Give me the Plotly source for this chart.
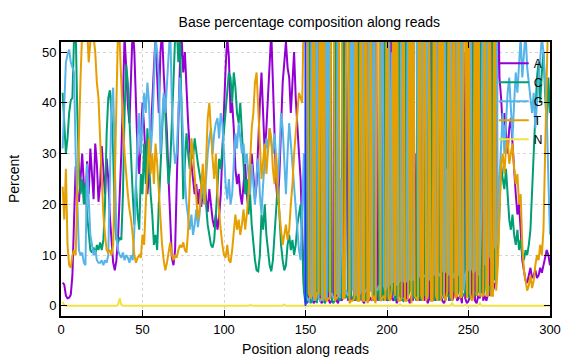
import plotly.graph_objects as go

positions = list(range(1, 301))

base_A = [
    4.6, 4.2, 2.0, 1.5, 1.6, 2.2, 6.0, 18.0, 27.5, 22.0,
    20.5, 25.0, 30.0, 24.0, 20.0, 28.5, 22.0, 31.0, 26.0, 21.0,
    32.0, 28.0, 20.5, 24.0, 31.5, 27.0, 22.0, 29.0, 25.0, 17.5,
    12.0, 8.5, 7.0, 9.0, 13.5, 21.0, 30.0, 41.0, 53.0, 47.0,
    39.5, 36.0, 44.0, 55.0, 50.0, 38.0, 30.0, 26.0, 33.0, 40.0,
    35.0, 28.0, 22.0, 26.0, 32.0, 40.0, 47.0, 53.0, 45.0, 38.0,
    50.0, 54.0, 46.0, 40.0, 34.0, 25.0, 16.0, 9.5, 8.0, 11.0,
    24.0, 38.0, 48.0, 53.0, 46.0, 50.0, 42.0, 36.0, 31.0, 28.0,
    25.0, 22.0, 24.0, 20.0, 23.0, 19.5, 22.0, 25.0, 21.0, 18.5,
    23.0, 20.0, 17.0, 15.5, 18.0, 15.0, 17.5, 22.0, 30.0, 41.0,
    47.0, 53.0, 49.0, 38.0, 40.0, 35.0, 27.0, 24.0, 26.0, 22.0,
    20.0, 24.0, 28.0, 22.0, 19.0, 25.0, 30.0, 26.0, 21.0, 24.0,
    33.0, 40.0, 46.0, 38.0, 30.0, 35.0, 42.0, 50.0, 54.0, 44.0,
    32.0, 24.0, 20.0, 26.0, 35.0, 44.0, 48.0, 52.0, 47.0, 45.0,
    38.0, 43.0, 50.0, 41.0, 34.0, 30.0, 25.0, 14.0, 4.0,
    1.0, 0.5, 1.5, 96, 2.0, 0.5, 1.0, 3.0, 60, 1.0,
    0.5, 2.0, 1.0, 95, 1.5, 0.5, 1.0, 2.0, 96, 1.0,
    0.5, 2.5, 1.0, 1.5, 94, 40, 1.0, 2.0, 1.0, 95,
    1.0, 3.0, 1.5, 96, 2.0, 1.0, 0.5, 2.5, 94, 1.0,
    1.5, 1.0, 2.0, 94, 1.0, 2.0, 1.0, 1.5, 93, 2.0,
    1.0, 2.5, 93, 1.5, 1.0, 2.0, 0.5, 1.5, 92, 1.0,
    2.0, 93, 1.0, 1.5, 0.5, 2.0, 1.0, 30, 1.5, 2.5,
    1.0, 2.0, 91, 1.0, 2.0, 0.5, 1.5, 91, 1.0, 2.5,
    1.0, 90, 1.5, 2.0, 1.0, 0.5, 1.5, 68, 1.0, 2.0,
    1.0, 2.0, 89, 1.0, 1.5, 2.0, 0.5, 50, 1.5, 0.5,
    1.0, 2.0, 1.5, 89, 1.0, 0.5, 2.0, 1.5, 75, 1.0,
    2.0, 1.0, 2.5, 2.0, 86, 3.0, 4.0, 5.0, 70,
    45, 41, 35, 38, 33, 30, 35, 37, 32, 26, 22, 18,
    20, 15, 9, 7, 5, 4.5, 6, 7.5, 5.5, 6,
    7, 5.5, 6, 7.5, 6.5, 8, 9, 11, 10, 8,
]

base_C = [
    42.0, 36.0, 30.0, 33.0, 38.0, 40.5, 41.0, 53.0, 55.0, 38.0,
    27.0, 22.0, 25.0, 20.0, 24.0, 18.0, 14.0, 11.0, 10.5, 11.5,
    10.0, 12.0, 11.0, 12.5, 11.0, 13.0, 20.0, 34.0, 41.0, 42.5,
    38.0, 30.0, 17.0, 13.0, 12.5, 13.5, 13.0, 22.0, 38.0, 47.5,
    44.0, 36.0, 28.0, 22.0, 16.0, 24.0, 18.0, 15.0, 26.0, 22.0,
    32.0, 24.0, 35.0, 28.0, 22.0, 18.0, 12.0, 14.0, 11.0, 20.0,
    26.0, 34.0, 41.0, 38.0, 30.0, 24.0, 28.0, 35.0, 44.0, 53.0,
    55.0, 48.0, 53.0, 38.0, 21.0, 28.0, 34.0, 30.0, 27.0, 31.0,
    29.0, 33.0, 30.0, 28.0, 26.0, 24.0, 21.0, 23.0, 20.0, 16.0,
    14.0, 12.0, 11.5, 13.0, 18.0, 24.0, 29.0, 27.0, 31.0, 35.0,
    38.0, 42.0, 46.0, 45.0, 40.0, 46.0, 43.0, 38.0, 36.0, 40.0,
    35.0, 28.0, 22.0, 25.0, 18.0, 22.0, 16.0, 12.0, 9.0, 7.0,
    6.8, 10.0, 18.0, 15.0, 20.0, 14.0, 11.0, 8.0, 6.8, 9.0,
    14.0, 20.0, 24.0, 18.0, 12.0, 9.0, 7.0, 8.0, 12.0, 14.0,
    11.0, 13.0, 10.0, 12.0, 16.0, 18.0, 20.0, 12.0, 3.0,
    0.5, 1.0, 95, 0.5, 1.0, 1.5, 96, 0.5, 36, 2.0,
    97, 1.0, 0.5, 2.5, 3.0, 96, 1.5, 0.5, 1.0, 95,
    1.5, 1.0, 2.0, 95, 1.5, 2.0, 1.5, 95, 2.0, 1.0,
    2.5, 1.0, 95, 1.0, 1.5, 2.0, 96, 1.0, 2.0, 1.5,
    28, 95, 1.0, 2.0, 3.0, 1.0, 95, 2.0, 1.0, 94,
    2.0, 1.0, 2.0, 45, 3.0, 1.0, 2.0, 93, 2.0, 1.5,
    1.0, 1.5, 93, 2.0, 3.0, 92, 1.5, 2.0, 1.0, 91,
    2.0, 1.0, 2.5, 2.0, 91, 1.5, 38, 2.0, 91.5, 1.0,
    2.0, 2.5, 1.0, 90.5, 2.5, 1.5, 91, 2.0, 2.0, 1.0,
    91, 3.0, 2.5, 2.0, 3.0, 90, 2.0, 2.0, 3.0, 91,
    2.0, 1.5, 90, 3.0, 2.5, 2.0, 3.0, 88, 3.0, 2.0,
    3.5, 88, 2.0, 4.0, 3.0, 84, 5.0, 6.0, 10.0,
    20, 28, 25, 23, 27, 21, 17, 15, 18, 14, 12, 15,
    11, 13, 10, 9, 11, 10, 12, 15, 22, 30,
    38, 45, 48, 40, 46, 50, 42, 35, 45, 38,
]

base_G = [
    31.0, 42.0, 48.0, 49.5, 50.5, 48.0, 47.0, 46.0, 30.0, 18.0,
    11.0, 10.0, 10.5, 8.5, 8.0, 28.0, 20.0, 14.0, 12.0, 10.0,
    11.0, 9.0, 8.5, 8.5, 9.0, 8.0, 9.0, 8.5, 10.0, 25.0,
    40.0, 43.0, 30.0, 14.0, 11.0, 10.0, 9.5, 10.5, 9.0, 10.0,
    9.5, 8.5, 10.0, 9.0, 15.0, 25.0, 33.0, 38.0, 30.0, 36.0,
    42.0, 38.0, 44.0, 40.0, 30.0, 35.0, 44.0, 53.0, 50.0, 45.0,
    30.0, 35.0, 42.0, 38.0, 45.0, 53.0, 55.0, 40.0, 32.0, 28.0,
    30.0, 38.0, 45.0, 40.0, 32.0, 25.0, 20.0, 17.0, 15.0, 18.0,
    14.0, 16.0, 19.0, 15.5, 18.0, 22.0, 24.0, 20.0, 26.0, 30.0,
    33.0, 35.0, 30.0, 34.0, 36.0, 37.0, 33.0, 38.0, 36.0, 30.0,
    24.0, 21.0, 25.0, 20.0, 22.0, 28.0, 34.0, 31.0, 36.0, 33.0,
    30.0, 32.0, 28.0, 30.0, 25.0, 22.0, 28.0, 24.0, 20.0, 26.0,
    29.0, 22.0, 18.0, 24.0, 28.0, 33.0, 31.0, 35.0, 32.0, 30.0,
    34.0, 28.0, 24.0, 30.0, 38.0, 35.0, 27.0, 22.0, 30.0, 36.0,
    32.0, 28.0, 24.0, 20.0, 16.0, 11.0, 9.0, 18.0, 30.0,
    2.0, 1.5, 1.0, 2.0, 95, 1.0, 2.0, 94, 1.5, 1.0,
    1.5, 1.0, 97, 1.5, 94, 2.0, 2.5, 1.5, 2.0, 2.5,
    96, 1.5, 25, 2.0, 3.0, 3.0, 2.0, 2.5, 96, 3.0,
    95, 2.0, 2.5, 2.0, 3.0, 96, 2.5, 3.0, 3.5, 96,
    3.0, 3.0, 95, 3.5, 3.0, 4.0, 3.0, 95, 4.0, 3.0,
    4.0, 95, 4.0, 50, 4.5, 95, 4.0, 4.5, 5.0, 96,
    5.0, 4.5, 5.0, 95, 5.0, 5.5, 5.0, 66, 96, 5.5,
    6.0, 95, 5.5, 6.0, 6.0, 96, 5.0, 6.0, 6.5, 6.0,
    95, 6.5, 6.0, 6.5, 7.0, 96, 6.5, 27, 6.0, 95,
    6.5, 5.5, 7.0, 95, 6.0, 6.5, 95.5, 3.0, 6.0, 7.0,
    7.0, 94, 7.5, 6.5, 7.0, 95.5, 6.0, 8.0, 20, 95,
    8.0, 9.0, 93.5, 10.0, 9.0, 11.0, 12.0, 86, 12.0,
    25, 33, 38, 30, 36, 42, 45, 38, 33, 40, 46, 42,
    48, 53, 45, 50, 54, 47, 44, 40, 38, 42,
    35, 40, 44, 48, 53, 50, 44, 38, 25, 14,
]

base_T = [
    23.5, 17.0, 27.0, 12.0, 8.0, 7.5, 10.0, 11.0, 10.0, 22.0,
    38.0, 45.0, 54.0, 60.0, 58.0, 55.0, 48.0, 52.0, 56.0, 53.0,
    50.0, 44.0, 41.0, 33.0, 25.0, 18.0, 14.0, 11.0, 10.5, 11.0,
    10.0, 12.0, 25.0, 40.0, 55.0, 52.0, 42.0, 36.0, 30.0, 25.0,
    22.0, 19.0, 17.0, 14.0, 10.0, 8.5, 9.5, 10.0, 9.5, 14.0,
    12.0, 20.0, 28.0, 33.0, 26.0, 30.0, 24.0, 32.0, 28.0, 22.0,
    18.0, 12.0, 9.0, 7.0, 8.5, 11.0, 12.5, 10.0, 9.0, 10.0,
    9.5, 11.0, 12.0, 11.5, 12.5, 11.0, 10.5, 15.0, 25.0, 33.0,
    30.0, 26.0, 21.0, 17.0, 19.0, 23.0, 28.0, 20.0, 30.0, 37.0,
    40.0, 34.0, 29.0, 25.0, 30.0, 22.0, 18.0, 15.0, 12.0, 10.0,
    9.5, 12.0, 9.0, 8.5, 11.0, 14.0, 18.0, 15.0, 17.0, 14.0,
    16.0, 19.0, 15.0, 18.0, 22.0, 28.0, 35.0, 38.0, 44.0, 46.0,
    40.0, 32.0, 25.0, 28.0, 32.0, 26.0, 30.0, 35.0, 33.0, 27.0,
    24.0, 30.0, 22.0, 18.0, 15.0, 12.0, 14.0, 16.0, 13.0, 15.0,
    20.0, 24.0, 30.0, 35.0, 38.0, 42.0, 41.0, 40.0, 60.0,
    96, 97, 2.5, 1.5, 2.0, 97, 1.0, 2.5, 2.5, 96,
    1.0, 96, 1.5, 1.0, 1.5, 1.5, 95, 96, 1.0, 1.5,
    2.0, 95, 72, 1.5, 1.5, 55, 95, 0.5, 1.0, 1.0,
    1.5, 94, 1.0, 1.0, 93, 1.0, 1.0, 93, 0.5, 1.5,
    67, 1.0, 2.0, 0.5, 93, 93, 1.0, 1.5, 2.0, 1.0,
    93, 1.5, 1.0, 3.5, 91.5, 2.0, 93.5, 1.0, 1.0, 1.5,
    92, 1.0, 1.0, 1.5, 91.5, 0.5, 92.5, 2.0, 1.5, 1.0,
    91, 2.0, 1.0, 91, 1.0, 2.0, 55.5, 1.0, 1.0, 90.5,
    2.0, 1.0, 91.5, 1.0, 89.5, 2.0, 1.0, 3.0, 91, 2.0,
    1.0, 89.5, 1.5, 2.0, 89.5, 1.5, 2.0, 45, 89.5, 1.5,
    90, 2.5, 1.0, 1.5, 89.5, 2.0, 89, 2.0, 2.0, 2.0,
    86.5, 2.0, 2.0, 84, 2.0, 2.0, 79, 3.0, 8.0,
    18, 28, 30, 26, 31, 33, 28, 30, 32, 27, 24, 26,
    20, 22, 12, 7, 5, 3, 4, 6, 3.5, 5,
    8, 10, 9, 12, 10, 15, 30, 55, 60, 65,
]

base_N = [
    0.8, 0.1, 0, 0, 0, 0, 0, 0, 0, 0, 0, 0, 0, 0, 0, 0, 0, 0, 0, 0,
    0, 0, 0, 0, 0, 0, 0, 0, 0, 0, 0, 0, 0, 0, 0.2, 1.5, 0.2, 0, 0, 0,
    0, 0, 0, 0, 0, 0, 0, 0, 0, 0, 0, 0, 0, 0, 0, 0, 0, 0, 0, 0,
    0, 0, 0, 0, 0, 0, 0, 0, 0, 0, 0, 0, 0, 0, 0, 0, 0, 0, 0, 0,
    0, 0, 0, 0, 0, 0, 0, 0, 0, 0, 0, 0, 0, 0, 0, 0, 0, 0, 0, 0,
    0, 0, 0, 0, 0, 0, 0, 0, 0, 0, 0, 0, 0, 0, 0, 0.15, 0, 0, 0, 0,
    0, 0, 0, 0, 0, 0, 0, 0, 0, 0, 0, 0, 0, 0, 0, 0, 0.25, 0, 0, 0,
    0, 0, 0, 0, 0, 0, 0, 0, 0, 0, 0, 0, 0, 0, 0, 0, 0, 0, 0, 0,
    0, 0, 0, 0, 0, 0, 0, 0, 0, 0, 0, 0, 0, 0, 0, 0, 0, 0, 0, 0,
    0, 0, 0, 0, 0, 0, 0, 0, 0, 0, 0, 0, 0, 0, 0, 0, 0, 0, 0, 0,
    0, 0, 0, 0, 0, 0, 0, 0.3, 0, 0, 0, 0, 0, 0, 0, 0, 0, 0, 0, 0,
    0, 0, 0, 0, 0, 0, 0, 0, 0, 0, 0, 0, 0, 0, 0, 0, 0, 0, 0, 0.5,
    0, 0, 0, 0, 0, 0, 0, 0.2, 0, 0, 0, 0, 0, 0, 0, 0, 0.5, 0, 0, 0,
    0, 0, 0, 0, 0, 0, 0, 0, 0, 0, 0, 0, 0, 0, 0, 0, 0, 0, 0, 0,
    0, 0, 0, 0, 0, 0, 0, 0, 0, 0, 0, 0, 0, 0, 0, 0, 0, 0, 0, 0,
]

series_names = ["A", "C", "G", "T", "N"]
series_colors = ["#9400d3", "#009e73", "#56b4e9", "#e69f00", "#f0e442"]
boundary_pos = [150]

x_ticks = [0, 50, 100, 150, 200, 250, 300]
y_ticks = [0, 10, 20, 30, 40, 50]

fig = go.Figure()
for name, vals, col in zip(series_names, [base_A, base_C, base_G, base_T, base_N], series_colors):
    fig.add_trace(go.Scatter(x=positions[:len(vals)], y=vals, mode="lines", name=name,
                             line=dict(color=col, width=2)))

for b in boundary_pos:
    fig.add_shape(type="line", xref="x", yref="y", x0=b, x1=b, y0=0, y1=52,
                  line=dict(color="#1a33ff", width=2), layer="above")

font_family = "Liberation Sans, Arial, sans-serif"
axis_common = dict(showline=True, linecolor="black", linewidth=2, mirror="ticks",
                   ticks="inside", ticklen=6, tickcolor="black", tickwidth=1,
                   showgrid=True, gridcolor="#d6d6d6", griddash="dot", gridwidth=0.8,
                   zeroline=False, automargin=False,
                   tickfont=dict(size=13, color="black", family=font_family))

fig.update_layout(
    width=576, height=360,
    margin=dict(l=61, r=26, t=42, b=44),
    paper_bgcolor="white", plot_bgcolor="white",
    font=dict(family=font_family, size=13, color="black"),
    title=dict(text="Base percentage composition along reads", x=0.537, xanchor="center",
               y=0.94, yanchor="middle", font=dict(size=14)),
    xaxis=dict(range=[0, 300], tickvals=x_ticks,
               title=dict(text="Position along reads", standoff=9, font=dict(size=14)),
               **axis_common),
    yaxis=dict(range=[-2, 52], tickvals=y_ticks,
               title=dict(text="Percent", standoff=19, font=dict(size=14)),
               **axis_common),
    legend=dict(x=0.885, y=0.975, xanchor="left", yanchor="top", bgcolor="rgba(0,0,0,0)",
                font=dict(size=12), itemwidth=30, tracegroupgap=0),
    showlegend=True,
)

fig.write_html("out.html")
